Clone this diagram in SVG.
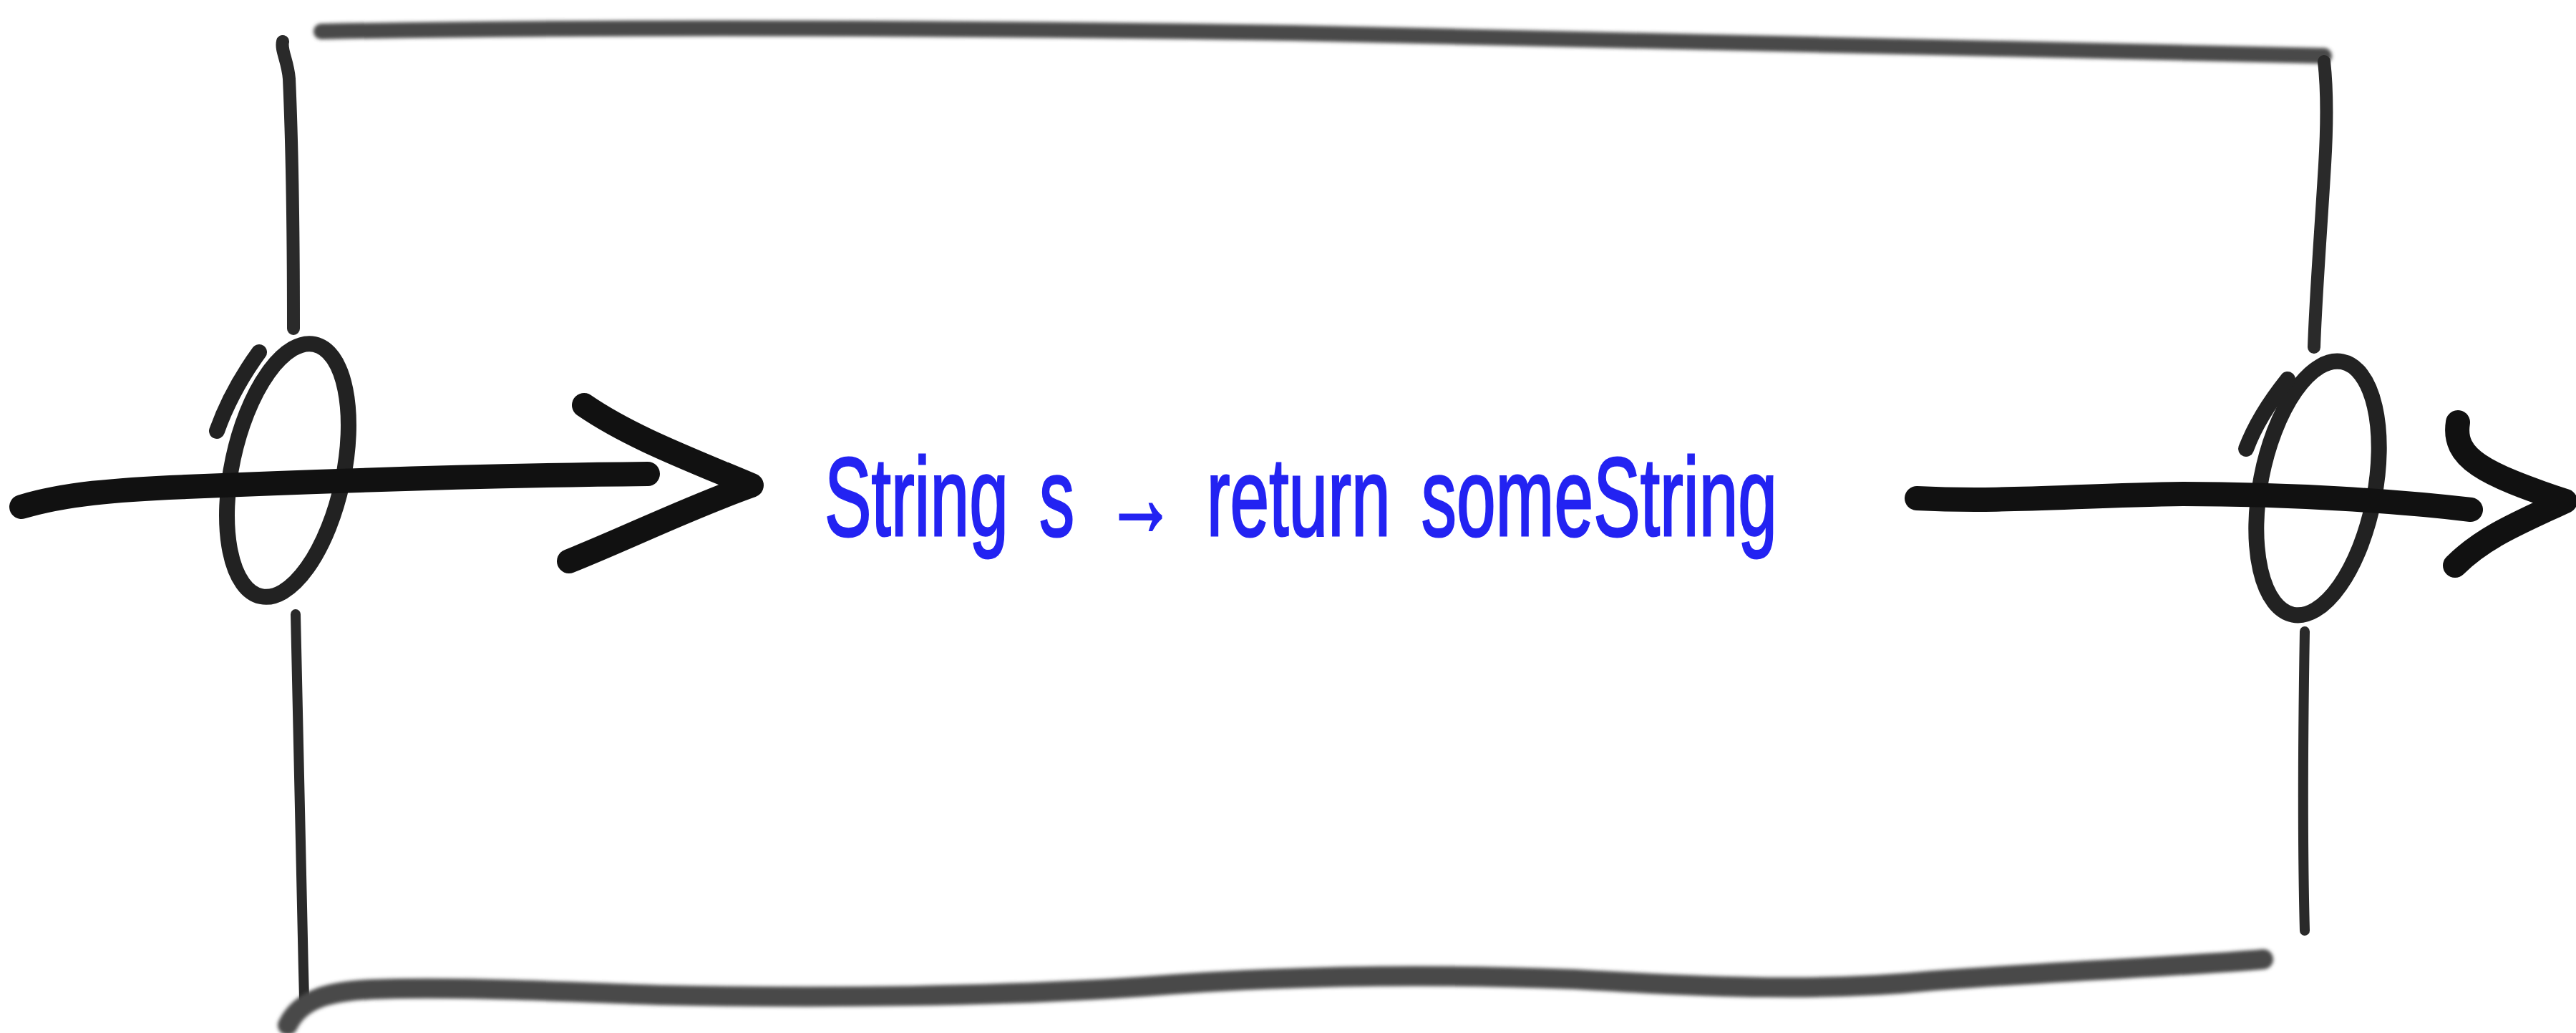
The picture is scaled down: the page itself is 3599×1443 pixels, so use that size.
<svg xmlns="http://www.w3.org/2000/svg" width="3599" height="1443" viewBox="0 0 3599 1443">
  <style>
    .edge { fill: none; stroke: #2a2a2a; stroke-linecap: round; stroke-linejoin: round; }
    .soft { fill: none; stroke: #4a4a4a; stroke-linecap: round; stroke-linejoin: round; }
    .port { fill: none; stroke: #222; stroke-width: 22; }
    .wire { fill: none; stroke: #111; stroke-width: 34; stroke-linecap: round; stroke-linejoin: round; }
    .label { font-family: "Liberation Sans", "DejaVu Sans", sans-serif; font-size: 155px; fill: #2323f2; stroke: #2323f2; stroke-width: 3; word-spacing: 25px; }
  </style>
  <defs>
    <filter id="blur" x="-5%" y="-50%" width="110%" height="200%">
      <feGaussianBlur stdDeviation="2.5"/>
    </filter>
  </defs>
  <rect width="3599" height="1443" fill="#ffffff"/>

  <g id="box">
    <path class="soft" stroke-width="22" filter="url(#blur)" d="M449,44 C900,36 1400,40 1800,46 C2300,54 2800,70 3247,78"/>
    <path class="edge" stroke-width="18" d="M395,58 C392,70 402,85 404,110 C408,200 410,320 410,459"/>
    <path class="edge" stroke-width="14" d="M413,858 C415,1000 420,1200 425,1395"/>
    <path class="soft" stroke-width="28" filter="url(#blur)" d="M402,1432 C420,1395 460,1385 520,1382 C640,1378 780,1385 920,1390 C1150,1395 1400,1392 1600,1378 C1800,1362 2000,1360 2200,1368 C2400,1380 2550,1385 2700,1370 C2900,1355 3050,1350 3162,1340"/>
    <path class="edge" stroke-width="18" d="M3247,86 C3252,130 3251,180 3248,230 C3242,330 3235,420 3233,485"/>
    <path class="edge" stroke-width="14" d="M3220,882 C3218,1000 3216,1150 3220,1300"/>
  </g>

  <g id="input-port">
    <ellipse class="port" cx="402" cy="657" rx="78" ry="180" transform="rotate(12 402 657)"/>
    <path class="port" stroke-linecap="round" d="M303,602 C318,560 338,525 362,492"/>
  </g>

  <g id="output-port">
    <ellipse class="port" cx="3238" cy="682" rx="80" ry="180" transform="rotate(11 3238 682)"/>
    <path class="port" stroke-linecap="round" d="M3138,627 C3152,590 3172,560 3196,530"/>
  </g>

  <g id="label">
    <text class="label" x="1152" y="748" textLength="1331" lengthAdjust="spacingAndGlyphs">String s → return someString</text>
  </g>

  <g id="connectors">
    <g id="input-arrow">
      <path class="wire" d="M30,708 C90,690 160,684 260,680 C450,672 700,664 905,662"/>
      <path class="wire" d="M816,566 C880,610 960,640 1050,678 C960,710 880,750 795,784"/>
    </g>
    <g id="output-arrow">
      <path class="wire" d="M2678,696 C2800,702 2900,692 3050,690 C3200,690 3350,700 3452,712"/>
      <path class="wire" stroke-width="30" d="M3434,590 C3426,640 3470,662 3584,700 C3520,730 3470,750 3430,790"/>
    </g>
  </g>
</svg>
